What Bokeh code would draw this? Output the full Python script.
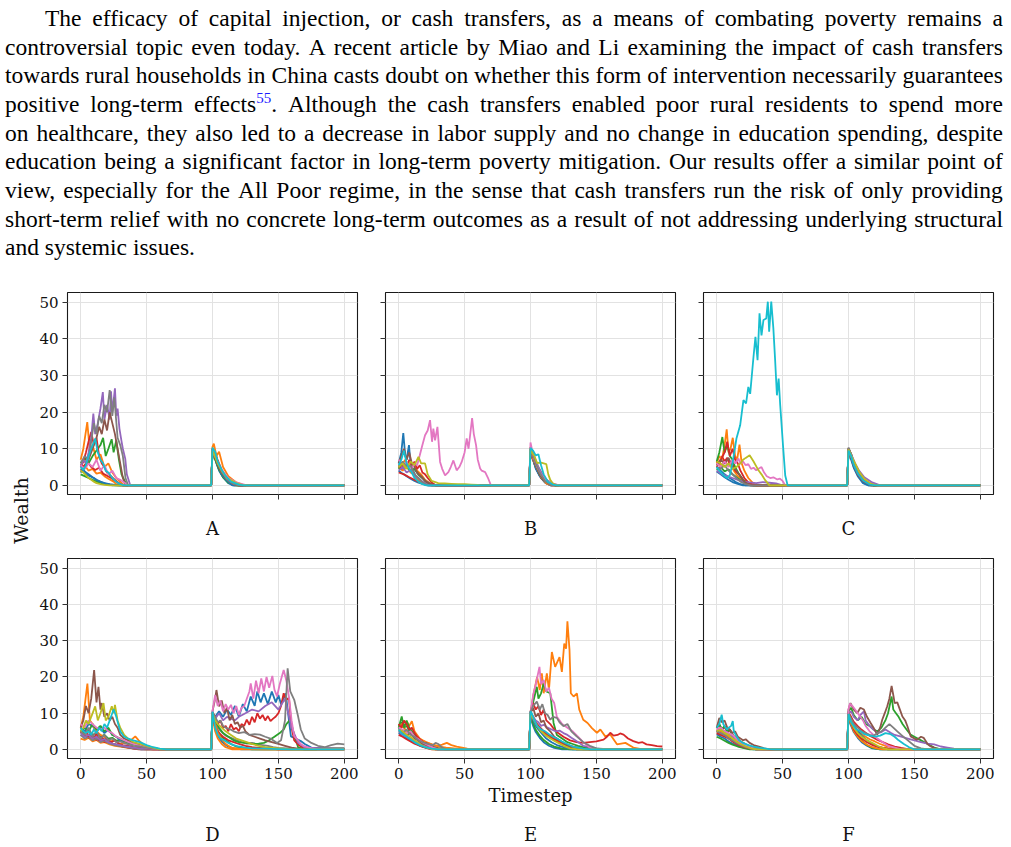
import math
from bokeh.plotting import figure
from bokeh.models import (Div, Range1d, FixedTicker, LinearAxis, CustomJSTickFormatter,
                          CustomLabelingPolicy)
from bokeh.layouts import column, row
from bokeh.embed import file_html
from bokeh.resources import INLINE

TAB10 = {"blue": "#1f77b4", "orange": "#ff7f0e", "green": "#2ca02c", "red": "#d62728",
         "purple": "#9467bd", "brown": "#8c564b", "pink": "#e377c2", "gray": "#7f7f7f",
         "olive": "#bcbd22", "cyan": "#17becf"}

X_TICKS = [0, 50, 100, 150, 200]
Y_TICKS = [0, 10, 20, 30, 40, 50]
CAPTIONS = ["A", "B", "C", "D", "E", "F"]
X_LABEL = "Timestep"
Y_LABEL = "Wealth"

PARAGRAPH = [
    "The efficacy of capital injection, or cash transfers, as a means of combating poverty remains a",
    "controversial topic even today. A recent article by Miao and Li examining the impact of cash transfers",
    "towards rural households in China casts doubt on whether this form of intervention necessarily guarantees",
    "positive long-term effects<SUP>. Although the cash transfers enabled poor rural residents to spend more",
    "on healthcare, they also led to a decrease in labor supply and no change in education spending, despite",
    "education being a significant factor in long-term poverty mitigation. Our results offer a similar point of",
    "view, especially for the All Poor regime, in the sense that cash transfers run the risk of only providing",
    "short-term relief with no concrete long-term outcomes as a result of not addressing underlying structural",
    "and systemic issues.",
]
CITATION = "55"

# ---------------- panel A ----------------
PANEL_A = [
    ("blue", [(0,3.5),(2,4.5),(4,3),(7,2.5),(10,2),(13,1.2),(16,0.8),(20,0.3),(24,0),(99,0),(100,9.4),(101,8.6),(103,6),(105,4),(108,2.2),(112,0.6),(116,0),(200,0)]),
    ("orange", [(0,4.8),(3,5.5),(6,4),(9,4.5),(12,3.2),(15,3.5),(18,2.5),(21,1.8),(25,1),(28,0),(99,0),(100,10.1),(102,8.8),(104,6.3),(106,4.4),(109,2.6),(113,0.9),(118,0),(200,0)]),
    ("green", [(0,3),(3,2.5),(6,2),(9,1.5),(12,1),(15,0.7),(19,0.4),(23,0.1),(27,0),(99,0),(100,9.2),(102,7),(105,4.3),(108,2.2),(112,0.7),(117,0),(200,0)]),
    ("red", [(0,5.8),(2,5),(5,6.5),(8,5),(11,4.2),(14,4.8),(17,3.2),(20,2.6),(24,1.8),(28,0.8),(32,0),(99,0),(100,9.9),(102,9),(104,6.8),(107,4.2),(111,2),(116,0.4),(121,0),(200,0)]),
    ("blue", [(0,4.5),(3,3.8),(6,3),(9,2.2),(12,1.5),(15,1),(18,0.6),(22,0.3),(26,0.1),(30,0),(99,0),(100,9.8),(102,7.5),(104,5.2),(107,3),(110,1.6),(115,0),(200,0)]),
    ("orange", [(0,7),(2,10),(5,17.3),(7,9),(9,11),(12,7),(15,8.5),(18,5),(21,6),(24,3.5),(27,2),(30,1),(33,0),(99,0),(100,10.5),(101,11.4),(103,8),(105,9.2),(108,5),(112,2.5),(118,0.8),(124,0),(200,0)]),
    ("green", [(0,6),(3,7.5),(6,6),(9,8),(12,9.5),(15,11),(17,13),(19,8),(21,10),(23.5,12.6),(25,9),(27,12.3),(29,7),(31,3),(33,1.5),(35,0),(99,0),(100,9.5),(102,7.5),(105,4.5),(109,2.5),(114,0.8),(119,0),(200,0)]),
    ("red", [(0,5),(2,6.5),(4,9),(6,12),(8,14.6),(10,11),(12,13),(14,8),(16,6),(18,5),(20,3.5),(23,2.5),(26,1.5),(29,0.5),(32,0),(99,0),(100,10),(102,7.8),(105,5),(110,2),(116,0.3),(120,0),(200,0)]),
    ("purple", [(0,5),(2,7),(4,6),(6,9),(8,13),(9.6,19.6),(11,14),(13,17),(15,21),(16.8,25.5),(18,18),(20,22),(22,18),(23,25.7),(24,20),(26,26.5),(27,19),(28,21),(29.4,15.5),(31,12),(32,10),(33.8,7.3),(35,3),(37.6,0),(99,0),(100,10),(102,8),(104,6.2),(107,3.5),(111,1.8),(118,0.4),(122,0),(200,0)]),
    ("brown", [(0,4),(3,5),(6,7),(9,10),(12,13),(14,16),(16,14),(18,18),(20,15),(22,20),(24,17),(26,14),(28,10),(30,6),(32,2),(34,0),(99,0),(100,9.5),(103,6.5),(106,4),(110,2),(116,0.5),(120,0),(200,0)]),
    ("pink", [(0,5.5),(3,4.5),(6,6),(9,5),(12,7),(15,4),(18,5.5),(21,3),(24,4),(27,2),(30,1.5),(33,0.8),(36,0),(99,0),(100,9.8),(102,8),(105,5.5),(108,3.8),(112,2),(118,0.8),(126,0),(200,0)]),
    ("gray", [(0,6),(3,8),(6,7),(8,12),(10,17),(12,14),(14,19),(16,17),(18,22),(20,20),(22,26),(24,19),(25.5,24),(28,13),(30,11),(32,8),(34,2),(36,0),(99,0),(100,9.7),(102,8.5),(104,6),(107,3.8),(111,1.6),(116,0.3),(120,0),(200,0)]),
    ("olive", [(0,4),(2,3.5),(4,2.8),(6,2),(8,1.5),(10,1),(12,0.6),(15,0.3),(18,0.1),(22,0),(99,0),(100,9.6),(102,7.8),(104,6),(107,4),(111,2),(118,0.6),(124,0),(200,0)]),
    ("cyan", [(0,5),(2,4.2),(4,5.5),(6,8),(8,10),(11,12.8),(13,9),(15,7),(17,6),(19,4),(21,3.5),(24,2),(27,1),(30,0.3),(33,0),(99,0),(100,10.3),(102,9.2),(104,6.5),(107,4.2),(110,2.5),(114,1),(120,0.2),(124,0),(200,0)]),
]

# ---------------- panel B ----------------
PANEL_B = [
    ("blue", [(0,4),(3,3.2),(6,2.5),(9,1.8),(12,1.2),(15,0.7),(19,0.3),(23,0),(99,0),(100,9.3),(102,7),(104,4.8),(107,2.6),(111,0.8),(115,0),(200,0)]),
    ("orange", [(0,6.5),(2,5.5),(5,7),(8,5),(11,6),(14,4),(17,3),(20,1.5),(24,0.5),(28,0),(99,0),(100,10.4),(102,8.2),(104,6),(107,3.8),(110,2),(114,0.5),(118,0),(200,0)]),
    ("red", [(0,3.5),(4,3),(8,2.2),(12,1.5),(16,0.8),(20,0.3),(25,0),(99,0),(100,9.1),(102,6.8),(105,4),(108,2),(112,0.5),(116,0),(200,0)]),
    ("gray", [(0,5.2),(3,4.5),(6,5.8),(9,4),(12,4.5),(15,2.8),(18,2),(21,1),(25,0.3),(29,0),(99,0),(100,9.9),(102,8.8),(104,6.8),(106,5),(109,3),(113,1.2),(118,0.2),(122,0),(200,0)]),
    ("blue", [(0,6),(2,9),(3.5,14.3),(5,8),(6,7),(7.8,11),(9,6),(11,4),(13,2.5),(16,1),(19,0.3),(22,0),(99,0),(100,9.5),(102,7),(104,4.5),(107,2.5),(111,0.8),(115,0),(200,0)]),
    ("orange", [(0,5),(3,4),(6,5.2),(9,3.5),(12,2.8),(15,1.5),(18,0.8),(22,0.2),(26,0),(99,0),(100,9.8),(102,7.2),(105,4.5),(108,2.3),(112,0.5),(116,0),(200,0)]),
    ("green", [(0,4.5),(3,6),(6,5),(9,4),(12,4.5),(15,3),(18,2),(21,0.8),(25,0),(99,0),(100,9.6),(102,8),(104,5.5),(107,3),(110,1.5),(115,0.3),(119,0),(200,0)]),
    ("red", [(0,5.5),(2,4.5),(4,6),(6,5),(8,7),(10,5),(12,6.5),(14,4.5),(16,5.5),(18,3.5),(20,3),(22.5,1.8),(25,0.8),(28,0),(99,0),(100,9.7),(102,8.5),(104,6),(107,3.5),(111,1.5),(116,0.3),(120,0),(200,0)]),
    ("purple", [(0,4),(3,5),(6,3.5),(9,4.2),(12,2.5),(15,2),(18,1),(21,0.4),(24,0),(99,0),(100,9.9),(102,7.9),(105,5.5),(108,3.5),(112,1.5),(118,0.3),(122,0),(200,0)]),
    ("brown", [(0,6),(2,8),(4,10),(6,7),(8,9),(10,6),(12,5),(14,3.5),(17,2.5),(20,1.2),(24,0.4),(28,0),(99,0),(100,10.4),(102,8),(104,5.5),(107,3),(110,1.5),(115,0.2),(119,0),(200,0)]),
    ("pink", [(0,7),(2,6),(4,5.5),(6,6.5),(8,5),(10,4.5),(12,6),(14,5.5),(16,8.2),(18,11),(20,13.7),(22,15),(23.8,17.8),(25.3,11.9),(26.3,15.5),(27.6,12.3),(29.4,16),(31.4,6.4),(33,4.5),(35.2,2.7),(37.7,3.6),(39.5,5),(41.5,6.8),(44,4.1),(46,5),(47.8,6.4),(50,9),(51.6,12.8),(53,10),(55.7,18.4),(57,14),(58.7,11),(60,7),(61.8,4.6),(63,4),(65.6,3.6),(68,1.8),(70,0),(99,0),(100,11.7),(101,10),(103,7),(105,5),(108,3),(112,1.2),(118,0.3),(122,0),(200,0)]),
    ("gray", [(0,5),(3,6.5),(6,5),(9,5.5),(12,3),(15,2),(18,0.8),(22,0),(99,0),(100,10),(102,8.5),(104,6),(107,3.5),(111,1.2),(116,0),(200,0)]),
    ("olive", [(0,5),(3,6),(6,4.5),(9,6.5),(12,5.5),(15,7.8),(17,6),(20,6),(22,3),(25,1.2),(30,0.6),(35,0.5),(40,0.4),(45,0.3),(50,0.3),(55,0.2),(60,0.1),(62,0),(99,0),(100,10),(101,9),(103,8),(105,6.1),(108,6.2),(110,6),(112,5.8),(113.5,3),(115,1.5),(117,0.5),(120,0),(200,0)]),
    ("cyan", [(0,5.5),(2,7),(4,9.5),(6,6),(8,4.5),(10,3.5),(12,2),(15,1),(18,0.3),(21,0),(99,0),(100,10.2),(102,9.5),(104,8.2),(106,8.5),(108,5.5),(110,3),(113,1),(117,0.2),(120,0),(200,0)]),
]

# ---------------- panel C ----------------
PANEL_C = [
    ("blue", [(0,3.8),(3,3),(6,2.2),(9,1.5),(12,0.9),(16,0.4),(20,0),(99,0),(100,9.2),(102,7),(104,4.8),(107,2.5),(111,0.6),(115,0),(200,0)]),
    ("orange", [(0,5.5),(2,6.5),(4,5),(6,7),(8,5.5),(10,6),(13,4),(16,2.5),(20,1.2),(24,0.3),(28,0),(99,0),(100,10.1),(102,8.3),(104,6),(107,3.6),(110,1.8),(114,0.5),(118,0),(200,0)]),
    ("green", [(0,4.2),(3,5),(6,3.8),(9,4.4),(12,3),(15,2.2),(18,1.4),(22,0.6),(26,0),(99,0),(100,9.5),(102,7.5),(105,4.6),(108,2.5),(112,0.8),(116,0),(200,0)]),
    ("red", [(0,6.8),(2,6),(4,8),(6,6.5),(8,7.5),(10,5.5),(12,6),(14,4),(17,3),(20,1.5),(24,0.5),(27,0),(99,0),(100,9.8),(102,8.6),(104,6.2),(106,4.5),(109,2.6),(113,1),(117,0),(200,0)]),
    ("blue", [(0,5),(3,4),(6,3),(9,2.2),(12,1.5),(15,0.8),(18,0.3),(22,0),(99,0),(100,9.6),(102,7.5),(104,5),(107,2.8),(111,0.8),(115,0),(200,0)]),
    ("orange", [(0,6),(2,8),(4,7),(6,11),(7.6,15.3),(9,9),(10.5,10),(12.2,13),(14,8),(15.5,7),(17.3,11.1),(19,6),(21,4),(24,2),(27,0.8),(30,0),(99,0),(100,9.8),(102,8),(104,5.8),(107,3.3),(111,1.5),(116,0.3),(120,0),(200,0)]),
    ("green", [(0,6.5),(2,9),(4.3,13.2),(6,9),(8,11),(10,8),(12,7),(14,5),(17,3),(20,1.5),(24,0.5),(28,0),(99,0),(100,10),(102,8.5),(104,6.2),(107,3.8),(111,1.8),(115,0.5),(119,0),(200,0)]),
    ("red", [(0,5),(2,6),(4,7.5),(6,9),(8,11.9),(10,8),(12,10),(14,7),(16,6),(18,4),(21,2),(24,0.8),(27,0.3),(30,0),(99,0),(100,9.7),(102,8),(104,5.5),(107,3),(111,1.2),(116,0.2),(120,0),(200,0)]),
    ("purple", [(0,4),(4,3),(8,2.5),(12,2),(16,1.5),(20,1),(25,0.8),(30,0.6),(35,0.9),(40,0.7),(45,0.5),(50,0),(99,0),(100,9.9),(102,8.5),(105,6),(108,4),(112,2.2),(118,0.8),(124,0),(200,0)]),
    ("brown", [(0,5.5),(3,7),(6,6),(9,7.5),(12,5),(15,4),(18,2.5),(21,1),(25,0),(99,0),(100,10.2),(102,8),(104,6),(107,3.8),(110,2),(115,0.4),(119,0),(200,0)]),
    ("pink", [(0,6),(3,5),(6,6.5),(9,5),(12,7),(14,6),(16.5,7.3),(18,6),(20,6.5),(22,5.5),(24,5.8),(26,4.5),(28,4.8),(30,4.1),(32,4.6),(34,5),(36,3.5),(38,2.5),(40.6,2),(43,2.2),(46,1.6),(48,1.8),(50,1.2),(52,0),(99,0),(100,9.8),(102,8),(105,5.2),(108,3.2),(112,1.5),(118,0.3),(122,0),(200,0)]),
    ("gray", [(0,5),(3,4.5),(6,5.5),(9,4),(12,3),(15,2),(18,1),(22,0.3),(26,0),(99,0),(100,10.3),(101,9.5),(103,7),(105,5),(108,3),(112,1.2),(118,0.3),(122,0),(200,0)]),
    ("olive", [(0,6.5),(3,6),(6,5),(9,6),(12,4.5),(15,5),(18,6),(20,7),(22,7.5),(25,8.2),(28,6.5),(31.7,4.1),(34,3),(36.8,1.4),(40,0),(99,0),(100,9.8),(102,8.2),(105,6),(108,3.8),(112,1.8),(117,0.4),(121,0),(200,0)]),
    ("cyan", [(0,5),(2,4),(4,3.2),(6,2.5),(8,2),(10,2.8),(12,6),(15,12.8),(17.8,16.4),(20.3,23.3),(22.3,22.4),(24,26.9),(25.4,25),(27.9,35),(29.4,40.6),(31,34.2),(32.5,47),(34,41),(35.5,45.2),(37.6,45.6),(38.8,50.2),(39.8,42),(41.4,50.2),(43,42.9),(44.4,33.8),(45.7,24.6),(47,29.2),(48.2,21.9),(50.3,11),(52,2.7),(53.8,0),(99,0),(100,9.5),(102,8),(104,5.5),(107,3.2),(111,1.3),(116,0.2),(120,0),(200,0)]),
]

# ---------------- panel D ----------------
PANEL_D = [
    ("blue", [(0,4),(3,3.5),(6,4.2),(9,3),(12,3.5),(15,2.5),(18,2.8),(21,2),(25,1.5),(30,1),(35,0.6),(40,0.3),(46,0),(99,0),(100,9.4),(102,6),(104,3.8),(107,2.2),(111,1),(116,0.3),(122,0),(200,0)]),
    ("orange", [(0,3),(3,2.6),(6,3.2),(9,2.2),(12,2.6),(15,1.8),(18,2),(22,1.4),(26,1),(30,0.8),(35,0.5),(42,0.2),(50,0),(99,0),(100,9),(102,5),(104,3),(107,1.5),(110,0.6),(115,0),(200,0)]),
    ("green", [(0,5.5),(3,4.5),(6,5),(9,4),(12,4.6),(15,3.5),(18,4),(21,3),(24,3.2),(27,2.4),(30,2.6),(34,2),(38,1.6),(42,1.3),(46,0.9),(50,0.6),(55,0.3),(60,0),(99,0),(100,9.7),(102,7),(104,5),(107,3.5),(110,2.5),(114,1.5),(118,0.8),(124,0.3),(130,0),(200,0)]),
    ("red", [(0,4.8),(3,4),(6,3.2),(9,3.6),(12,2.6),(15,3),(18,2),(21,2.3),(24,1.6),(28,1.2),(32,0.8),(36,0.5),(40,0.2),(44,0),(99,0),(100,9.3),(102,6.5),(105,4.5),(108,3.5),(112,2.5),(116,2),(120,1.5),(125,1),(130,0.6),(140,0.3),(150,0),(200,0)]),
    ("gray", [(0,4),(3,3),(6,3.5),(9,2.5),(12,3),(15,2),(18,2.4),(22,1.6),(26,1.2),(30,0.9),(35,0.6),(40,0.3),(46,0),(99,0),(100,9.9),(102,8),(104,6),(107,4.8),(110,3.8),(114,3.2),(118,2.6),(122,2),(126,1.6),(130,1.8),(134,1.4),(138,1.2),(142,1),(146,0.6),(150,0.4),(160,0.2),(170,0),(200,0)]),
    ("blue", [(0,6),(3,5),(6,7),(9,6.5),(12,5),(15,6),(18,4.5),(21,5.5),(24,4),(27,3.5),(30,2.5),(35,2),(40,1.5),(45,1),(50,0.6),(55,0.3),(60,0),(99,0),(100,10),(102,9),(105,10.5),(108,9),(111,11),(114,9.5),(117,12),(120,9),(123,12.5),(126,10.5),(129,14.6),(132,12),(134,16),(136.5,13),(139,15.5),(142,12.5),(145,16),(148,13),(150,15),(152,12.5),(155.6,15.5),(157,11),(159.5,3.6),(163,3),(167,2.3),(170,1.5),(175,0.5),(185,0.3),(200,0.3)]),
    ("orange", [(0,6),(2,9),(5.1,18.2),(7,8),(9,7),(12,5),(15,4),(18,3.5),(21,2),(25,2.5),(30,1.5),(35,2),(38,2.5),(41.4,3.6),(44,2.5),(48,1.2),(52,0.6),(56,0.2),(60,0),(99,0),(100,9.8),(102,7),(104,4.5),(107,2.8),(110,1.5),(114,0.5),(120,0.2),(130,0.1),(140,0),(200,0)]),
    ("green", [(0,5),(3,6),(6,5),(9,7),(12,5.5),(15,6.5),(18,5),(21,6),(24,4),(27,3.5),(30,3),(35,2),(40,1.5),(45,1),(50,0.8),(55,0.4),(60,0.1),(65,0),(99,0),(100,9.5),(102,8),(105,6),(108,4.5),(112,3.5),(116,2.5),(120,2),(125,1.8),(130,1.5),(135,1.6),(139,1.8),(143,2.5),(147,3.5),(151,4.5),(154,5.5),(156,7),(159,8.2),(162,4),(165,0.5),(170,0.2),(200,0.2)]),
    ("red", [(0,5),(2,4),(4,5),(6,3.5),(8,4.5),(10,3),(12,4.5),(14,2.5),(16,3.5),(18,2.5),(20,3),(23,2),(26,2.5),(29,1.5),(32,1.2),(36,1),(40,0.6),(45,0.4),(50,0.2),(55,0),(99,0),(100,10.2),(102,9),(104,7),(106,8),(108,6),(110,6.5),(112,5),(114,7),(116,5.5),(118,6),(120,5),(122,7),(124,6.5),(126,8.2),(128,6.8),(130,9),(132,7.5),(134,10),(136,8.5),(138,9.5),(140,8),(142,9.2),(144,7.8),(146,8.5),(148,9.1),(150,10),(152,12),(154,15.5),(156,13.7),(158,14.2),(160,6),(162,2.5),(166,1),(170,0.3),(200,0.2)]),
    ("purple", [(0,4.5),(3,3.5),(6,4),(9,3),(12,3.5),(15,2.5),(18,2.8),(21,2),(25,1.5),(30,1.2),(35,0.8),(40,0.5),(45,0.3),(50,0.2),(60,0),(99,0),(100,9.6),(102,8.5),(105,10),(108,8),(111,9),(114,8.5),(117,8),(120,9),(125,10),(130,11),(135,10.5),(140,12),(145,13),(150,11),(155,14),(160,6),(165,1.8),(170,0.5),(200,0.1)]),
    ("brown", [(0,6),(2,8),(4,12),(6,10),(8,14),(10.2,21.9),(12,13),(13.5,17.3),(15,11),(16,12.8),(18,9),(20,10),(22,8),(24,9),(26,7),(28,6),(30,4),(33,3),(36,2.5),(40,1.8),(45,1.2),(50,0.7),(55,0.3),(60,0),(99,0),(100,10.5),(102,14),(103,16.4),(105,11.9),(107,13.5),(109,10),(111,11.5),(113,8),(115,9.5),(117,7),(119,7.5),(121,6),(123,6.5),(125,5),(128,4),(132,3.5),(136,3),(140,2.5),(145,2),(150,1.5),(155,1),(160,0.5),(165,0.2),(170,0),(200,0)]),
    ("pink", [(0,7),(3,6),(6,8),(9,7),(12,6),(15,5.5),(18,6),(21,5),(24,4.5),(27,3.5),(30,3),(35,2.2),(40,1.5),(45,1),(50,0.5),(55,0.2),(60,0),(99,0),(100,10.6),(102,15),(104,12),(106,13.5),(108,10.5),(110,12.5),(112,11),(114,12.3),(116,10),(118,12),(120,9.5),(122,11.5),(124,11.9),(126,14),(128,16),(129,18.2),(131,14),(133,19),(135,15.5),(137,19.6),(139,16),(141,20),(143,17),(145.4,20.3),(147,16.5),(149,14.6),(151,18),(152.5,20),(154,21.9),(156,19),(158,14.6),(160,8),(162,3.6),(164.5,2.7),(167,1.5),(169.5,0.9),(175,0.3),(180,0),(200,0)]),
    ("gray", [(0,5),(3,4),(6,6),(9,3.5),(12,5),(15,3),(18,4),(21,2.5),(24,3),(27,2),(30,2.2),(35,1.5),(40,1),(45,0.8),(50,0.4),(55,0.2),(60,0),(99,0),(100,10.3),(102,9),(104,7.5),(106,8),(108,6.5),(110,6),(113.7,5.5),(116,5),(120,4.5),(124,4.8),(128,4),(132,4.2),(136,4.1),(140,3.5),(144,3),(149,1.8),(152,2.5),(155,8),(157,22.4),(159,16),(162,13.7),(165,9),(167,5.5),(170,3),(175,1.8),(180,1),(185,0.6),(190,1.2),(195,1.6),(200,1.4)]),
    ("olive", [(0,5),(2,6),(4,8),(6,7),(8,9),(11,11.9),(13,8),(15,10),(17.3,12.8),(19,8),(21,9),(23.6,11.9),(25,10),(26,12.3),(28,8),(30,6),(33,4),(36,3),(40,2),(45,1.5),(50,1),(55,0.5),(60,0),(99,0),(100,10),(102,8),(104,7),(107,6),(110,5),(114,4),(118,3),(122,2.5),(126,2),(130,1.5),(135,1),(140,0.6),(150,0.3),(160,0),(200,0)]),
    ("cyan", [(0,6),(2,5),(4,4.5),(6,5),(8,4),(10,5.5),(12,4.5),(14,6),(16,5),(18,7),(20,6),(22,8),(25,11.1),(27,9),(30,5),(33,3.5),(36,3),(40,2.5),(45,2),(50,1.2),(55,0.6),(60,0.2),(65,0),(99,0),(100,10.4),(102,6),(104,4),(106,3),(109,2.5),(112,1.8),(116,1.2),(120,0.8),(125,0.5),(130,0.3),(140,0.2),(150,0.1),(160,0),(200,0)]),
]

# ---------------- panel E ----------------
PANEL_E = [
    ("blue", [(0,4.5),(3,3.8),(6,3),(9,2.4),(12,1.8),(15,1.2),(19,0.7),(23,0.3),(28,0),(99,0),(100,9.2),(102,6.5),(104,4.8),(107,3.2),(110,2),(114,1),(118,0.4),(124,0),(200,0)]),
    ("orange", [(0,5.5),(3,6.5),(6,5),(9,5.5),(12,4),(15,3),(18,2.5),(21,2),(25,1.4),(30,0.8),(36,0.5),(42,0.3),(48,0),(99,0),(100,9.8),(102,8.5),(104,7),(107,5.5),(110,4.5),(114,3.5),(118,2.5),(122,1.8),(128,1),(134,0.4),(140,0),(200,0)]),
    ("green", [(0,6.5),(2,7.5),(4,6),(6,6.5),(9,4.5),(12,3.5),(15,2.4),(18,1.6),(22,0.9),(26,0.4),(30,0),(99,0),(100,9.5),(102,7.2),(104,5.4),(107,3.8),(110,2.6),(114,1.5),(118,0.8),(124,0.2),(130,0),(200,0)]),
    ("red", [(0,4),(3,3.5),(6,2.8),(9,2.2),(12,1.6),(16,1),(20,0.5),(25,0),(99,0),(100,10),(102,9),(104,7.5),(106,6.6),(109,5.4),(112,4.4),(115,3.6),(118,2.9),(122,2.2),(126,1.5),(130,1),(136,0.5),(145,0),(200,0)]),
    ("blue", [(0,6),(2,5),(4,4),(6,3.5),(8,3),(10,2.5),(13,1.8),(16,1.2),(20,0.6),(25,0.2),(30,0),(99,0),(100,10),(102,8),(104,6.5),(106,5.5),(109,4.2),(112,3),(116,2),(120,1.2),(126,0.5),(132,0),(200,0)]),
    ("orange", [(0,6.5),(2,7),(4,6),(6,7.8),(8,6.5),(10,7.8),(12,5),(14,4),(16,3),(18,2.5),(21,1.8),(24,1.5),(27,1.2),(30,1),(33,1.3),(36.5,1.8),(40,1.2),(44,0.8),(48,0.5),(52,0.2),(56,0),(99,0),(100,10),(102,14.6),(105,20),(107,16.4),(108.6,21),(110,15.5),(112.4,21),(114,16.4),(116.2,26.9),(118.7,22.8),(122,25.5),(123.8,21.4),(125.6,29.2),(127,27.8),(128,35.4),(129.6,27.4),(130.6,15.5),(132.7,14.6),(135.2,15.5),(137,11),(140,8.2),(143.3,7.3),(146.6,5.9),(150.4,4.6),(153,5.5),(156.7,3.6),(160.5,4.1),(165.6,1.4),(172,1.8),(178,0.5),(185,0),(200,0)]),
    ("green", [(0,6),(2.3,9.1),(4,6),(6,8),(8,6),(10,5),(12,4),(15,2.8),(18,2),(22,1.2),(26,0.6),(30,0.3),(35,0),(99,0),(100,10),(102,13),(104.8,17.3),(106,14),(108,15.5),(110,18.2),(112,16),(115,15.5),(117.5,7.3),(120,4),(124,3),(128,2),(132,1.5),(136,1),(140,0.6),(150,0),(200,0)]),
    ("red", [(0,7),(2,6),(4,8),(6,7),(8,5.5),(10,6),(12,4.5),(14,3.5),(17,2.5),(20,1.5),(24,0.6),(28,0),(99,0),(100,10.5),(102,12.8),(104,11),(106,12),(108,9.5),(110,11),(112,8),(115,7),(118,5.5),(121,4.5),(125,3.5),(130,2.5),(135,2),(140,1.8),(145,2),(150,2.2),(155.4,2.7),(158,3.5),(160.5,4.6),(163,3.8),(166,4),(168,4.4),(170.6,4.1),(174,3),(178,2.3),(182,1.8),(185,2),(188,1.4),(192,1.2),(196,0.9),(200,0.8)]),
    ("purple", [(0,5),(3,4),(6,3.5),(9,3),(12,2.5),(15,1.8),(18,1.2),(22,0.6),(26,0.2),(30,0),(99,0),(100,10.2),(102,9),(104,8),(106,7.5),(108,6.5),(110,6.8),(113,6),(116,5.5),(119,5),(122,5.2),(125,4.5),(128,4),(131,3.2),(134,2.5),(137,1.8),(140,1),(150,0.3),(160,0),(200,0)]),
    ("brown", [(0,5.5),(3,5),(6,4),(9,4.5),(12,3),(15,2.5),(18,1.5),(21,1.8),(24,1),(27,0.6),(30,0.3),(35,0),(99,0),(100,10),(102,11.5),(104,9),(106,10),(108,7.5),(110,8),(112,6),(115,5),(118,3.5),(122,2.5),(126,1.5),(130,0.6),(135,0),(200,0)]),
    ("pink", [(0,6),(3,5.5),(6,4.5),(9,5),(12,3.5),(15,2.8),(18,2),(22,1.2),(26,0.5),(30,0),(99,0),(100,10),(102,15),(104,18),(106.8,22.8),(108,18),(110,19.2),(112,16),(114,17),(116,14),(118,12.8),(120,9),(124,7),(128,6),(132,5),(136,3.5),(140,2),(145,0.5),(150,0),(200,0)]),
    ("gray", [(0,5),(3,4.5),(6,5.5),(9,4),(12,3.5),(15,2.5),(18,2),(22,1.5),(26,1.2),(28,1.8),(30,1.5),(33,0.5),(36,0),(99,0),(100,10.3),(102,12),(104.8,13.2),(107,11),(109,12.5),(111,10),(113,9.5),(115,8.2),(117,9),(120,8.7),(122,7.5),(125,6.4),(128,7),(131,5),(135,3.6),(140,2),(145,1),(150,0.3),(155,0),(200,0)]),
    ("olive", [(0,5.5),(3,5),(6,4),(9,3.5),(12,2.5),(15,1.8),(18,1),(22,0.4),(26,0),(99,0),(100,10),(102,8.5),(105,6.5),(108,5),(111,4),(115,3),(120,2),(125,1),(130,0.3),(136,0),(200,0)]),
    ("cyan", [(0,5.5),(2,4.5),(4,4),(6,3.5),(8,3),(10,2.5),(13,1.8),(16,1.2),(20,0.6),(25,0.2),(30,0),(99,0),(100,10.5),(101,10),(103,8),(105,6.5),(108,5.5),(111,5),(114,4.2),(117,3.5),(120,3),(124,2.2),(128,1.5),(132,0.8),(136,0.5),(140,0.2),(146,0),(200,0)]),
]

# ---------------- panel F ----------------
PANEL_F = [
    ("blue", [(0,4.2),(3,3.5),(6,3),(9,2.2),(12,1.6),(15,1.1),(19,0.6),(24,0.2),(28,0),(99,0),(100,8.8),(102,6.5),(104,4.8),(107,3.2),(110,2),(114,1),(118,0.3),(124,0),(200,0)]),
    ("orange", [(0,5),(3,4.2),(6,4.8),(9,3.6),(12,3.8),(15,2.8),(18,2.2),(22,1.4),(26,0.8),(30,0.4),(36,0.1),(40,0),(99,0),(100,9.6),(102,8.2),(104,6.6),(107,5.2),(110,4.2),(113,3.5),(116,2.8),(120,2.2),(124,1.5),(128,1),(134,0.5),(140,0.2),(148,0),(200,0)]),
    ("green", [(0,3.5),(3,3),(6,2.4),(9,1.8),(12,1.3),(16,0.8),(20,0.4),(25,0),(99,0),(100,9.3),(102,7.4),(104,5.6),(107,3.8),(110,2.5),(114,1.2),(118,0.4),(124,0),(200,0)]),
    ("red", [(0,5.8),(2,6.8),(4,5.5),(6,6.2),(8,4.8),(10,5.2),(13,3.6),(16,2.8),(19,2),(23,1.2),(27,0.6),(32,0.2),(36,0),(99,0),(100,10.2),(102,9),(104,7.6),(107,6.4),(110,5.4),(113,4.6),(116,3.8),(119,3.2),(122,2.6),(126,2),(130,1.4),(135,0.8),(140,0.4),(146,0),(200,0)]),
    ("blue", [(0,5),(3,4.5),(6,4),(9,3.5),(12,2.5),(15,1.8),(18,1.2),(22,0.6),(26,0.2),(30,0),(99,0),(100,9.5),(102,8),(104,6.5),(107,5),(110,3.8),(114,2.5),(118,1.5),(123,0.6),(130,0),(200,0)]),
    ("orange", [(0,5.5),(3,5),(6,4.5),(9,3.5),(12,3),(15,2.2),(18,1.5),(22,0.8),(26,0.4),(30,0.1),(35,0),(99,0),(100,9),(102,7),(104,5),(107,3.5),(110,2.3),(114,1.3),(118,0.6),(122,0.2),(126,0),(200,0)]),
    ("green", [(0,6),(2,7),(4,5.5),(6,6.5),(8,5),(10,5.5),(12,4),(15,3),(18,2.2),(22,1.3),(26,0.6),(30,0.2),(35,0),(99,0),(100,10.5),(102,11.5),(104,9.5),(107,8),(110,9),(113,7),(116,6.5),(119,5.5),(122,5),(125,6),(128,8),(130,10),(132.7,14.6),(134,11),(136,10),(138,9),(141,7),(144,5.5),(147,4.1),(150,3.5),(155,2.5),(160,1.5),(165,0.5),(170,0),(200,0)]),
    ("red", [(0,4.5),(3,4),(6,3.5),(9,3),(12,2.2),(15,1.5),(18,1),(22,0.5),(26,0.2),(30,0),(99,0),(100,9.2),(102,7.5),(104,5.5),(107,4),(110,3),(114,2),(118,1.2),(122,0.8),(126,0.5),(130,0.3),(140,0),(200,0)]),
    ("purple", [(0,5),(3,6),(6,5),(9,4.5),(12,3.5),(15,3),(18,2),(22,1.2),(26,0.5),(30,0.1),(34,0),(99,0),(100,10),(102,10.5),(104,9),(107,8),(109,9.5),(111.7,10.5),(113,8),(116,6.5),(119,5.5),(122,4.5),(125,4.8),(128,5.5),(132,4.6),(135,4),(140,3.5),(145,3),(150,2.5),(155,2),(160,1.6),(165,1.4),(170,0.8),(175,0.5),(180,0.2),(185,0),(200,0)]),
    ("brown", [(0,6),(2,8.7),(4,7.5),(6,8),(8,6),(10,5.5),(12,4.5),(14,5),(16,3.5),(18,3),(20,2.5),(22,2.8),(25,1.8),(28,1.2),(32,0.8),(36,0.3),(40,0),(99,0),(100,11),(101.5,12.8),(104,11),(106.6,10),(109,11.5),(111.7,11),(114,9),(116.8,7.3),(119,6),(121.8,4.1),(124,6),(125.6,8.2),(127.5,10),(129.4,11.9),(131,14),(132.7,17.5),(134,15),(135,12.8),(137,13),(139,11),(140.9,9.1),(143,8),(144.7,6.4),(147.2,3.6),(150,3),(152,2.7),(155,3.5),(157,3.2),(160,1.5),(162,0.9),(166,0.3),(170,0),(200,0)]),
    ("pink", [(0,5.5),(3,6),(6,5),(9,4.5),(12,4),(15,3),(18,2),(22,1.2),(26,0.6),(30,0.1),(34,0),(99,0),(100,11),(101,12.6),(103,12),(105,11),(107,10),(109,9),(111,8),(113,6.5),(116,5),(119,4),(122,3),(126,2),(130,1),(135,0.5),(140,0),(200,0)]),
    ("gray", [(0,5),(3,4.5),(6,4),(9,3),(12,2.5),(15,1.8),(18,1.2),(22,0.6),(26,0.2),(30,0),(99,0),(100,9.8),(102,8.5),(104,7),(107,6),(110,5),(113,4.5),(116,4),(119,3.8),(122,4.5),(125,5),(128,6),(131,7),(134,6),(137,5),(140,4),(145,2.5),(150,1),(155,0.3),(160,0),(200,0)]),
    ("olive", [(0,5),(3,5.5),(6,4.5),(9,4),(12,3),(15,2.2),(18,1.5),(22,0.8),(26,0.3),(30,0),(99,0),(100,9.5),(102,7.5),(104,6),(107,4.5),(110,3.5),(114,2.5),(118,1.8),(122,1),(126,0.4),(130,0),(200,0)]),
    ("cyan", [(0,6),(2,7),(3.8,9.6),(5,7),(7.6,5.5),(9,6),(11,6.5),(12.2,7.8),(13,5),(15,3.6),(17,2.5),(20,1.8),(24,1.2),(28,0.8),(32,0.5),(36,0.3),(40,0.1),(45,0),(99,0),(100,9.8),(102,7.5),(104,6.5),(106,5.5),(109,5),(112,4.2),(116,3.8),(120,3.5),(124,3.8),(128,4.5),(132,4.2),(135,3.5),(138,2.5),(142,1.5),(146,0.6),(150,0),(200,0)]),
]

PANELS = [PANEL_A, PANEL_B, PANEL_C, PANEL_D, PANEL_E, PANEL_F]

SERIF = "DejaVu Serif"
HIDE_ALL = "for (const i of indices) { indices.unset(i) }\nreturn indices"

# column geometry: (canvas width, left border, right border)
COLS = [(336, 32, 14), (318, 14, 14), (322, 14, 18)]
# row geometry: (canvas height, top border, bottom border)
ROWS = [(270, 12, 56), (297, 8, 87)]


def style_label(ax, size="18px"):
    ax.axis_label_text_font = SERIF
    ax.axis_label_text_font_size = size
    ax.axis_label_text_font_style = "normal"
    ax.axis_label_text_color = "#111111"


def make_panel(idx):
    ci, ri = idx % 3, idx // 3
    w, bl, br = COLS[ci]
    h, bt, bb = ROWS[ri]
    p = figure(width=w, height=h, x_range=Range1d(-10, 210), y_range=Range1d(-2.51, 52.71),
               output_backend="svg", toolbar_location=None, title=None,
               min_border_left=bl, min_border_right=br, min_border_top=bt, min_border_bottom=bb)
    p.background_fill_color = "white"
    p.border_fill_color = "white"
    p.outline_line_color = "#1a1a1a"
    p.outline_line_width = 1.1
    xa, ya = p.xaxis[0], p.yaxis[0]
    for ax in (xa, ya):
        ax.axis_line_color = None
        ax.major_tick_out = 5
        ax.major_tick_in = 0
        ax.major_tick_line_color = "#333333"
        ax.minor_tick_line_color = None
        ax.major_label_standoff = 4
        ax.major_label_text_font = SERIF
        ax.major_label_text_font_size = "15px"
        ax.major_label_text_color = "#111111"
    xa.ticker = FixedTicker(ticks=X_TICKS)
    ya.ticker = FixedTicker(ticks=Y_TICKS)
    if ri == 0:
        xa.major_label_policy = CustomLabelingPolicy(code=HIDE_ALL)
    if ci != 0:
        ya.formatter = CustomJSTickFormatter(code="return ''")
        ya.major_label_policy = CustomLabelingPolicy(code=HIDE_ALL)
    p.grid.grid_line_color = "#e2e2e2"
    p.grid.grid_line_width = 1

    for cname, pts in PANELS[idx]:
        xs = [q[0] for q in pts]
        ys = [q[1] for q in pts]
        p.line(xs, ys, line_color=TAB10[cname], line_width=1.8)

    style_label(xa)
    if ri == 0:
        xa.axis_label = CAPTIONS[idx]
        xa.axis_label_standoff = 0
    elif idx == 4:
        xa.axis_label = X_LABEL
        xa.axis_label_standoff = 3
        cap = LinearAxis(ticker=FixedTicker(ticks=[]), axis_label=CAPTIONS[idx],
                         axis_line_color=None, major_tick_out=0, major_tick_in=0,
                         minor_tick_line_color=None, major_label_standoff=0,
                         axis_label_standoff=15)
        style_label(cap)
        p.add_layout(cap, "below")
    else:
        xa.axis_label = CAPTIONS[idx]
        xa.axis_label_standoff = 42
    return p


def make_ylabel_fig():
    total_h = ROWS[0][0] + ROWS[1][0]
    p = figure(width=35, height=total_h, x_range=Range1d(0, 1), y_range=Range1d(0, 1),
               output_backend="svg", toolbar_location=None, title=None, x_axis_location=None,
               min_border_left=31, min_border_right=0, min_border_top=130,
               min_border_bottom=total_h - 330)
    p.outline_line_color = None
    p.background_fill_color = "white"
    p.border_fill_color = "white"
    p.grid.visible = False
    ya = p.yaxis[0]
    ya.ticker = FixedTicker(ticks=[])
    ya.axis_line_color = None
    ya.major_tick_out = 0
    ya.major_tick_in = 0
    ya.minor_tick_line_color = None
    ya.major_label_standoff = 0
    ya.axis_label = Y_LABEL
    ya.axis_label_standoff = 0
    style_label(ya, "19px")
    return p


def paragraph_html():
    parts = []
    n = len(PARAGRAPH)
    sup = ('<span style="color:#1a1aff;font-size:15px;vertical-align:9px;line-height:0;">%s</span>'
           % CITATION)
    for i, s in enumerate(PARAGRAPH):
        words = [wd.replace("<SUP>", sup) for wd in s.split(" ")]
        if i < n - 1:
            pad = "padding-left:40px;" if i == 0 else ""
            spans = "".join("<span>%s</span>" % wd for wd in words)
            parts.append('<div style="display:flex;justify-content:space-between;'
                         'white-space:nowrap;%s">%s</div>' % (pad, spans))
        else:
            parts.append('<div style="white-space:nowrap;">%s</div>' % " ".join(words))
    return ('<div style="font-family:\'Liberation Serif\',serif;font-size:23.5px;line-height:28.65px;'
            'color:#000;width:998px;margin-left:5px;padding-top:4px;">' + "".join(parts) + "</div>")


div = Div(text=paragraph_html(), width=1011, height=280, margin=(0, 0, 0, 0))
figs = [make_panel(i) for i in range(6)]
grid = column(row(figs[0], figs[1], figs[2]), row(figs[3], figs[4], figs[5]))
layout = column(div, row(make_ylabel_fig(), grid))

open("out.html", "w").write(file_html(layout, INLINE))
